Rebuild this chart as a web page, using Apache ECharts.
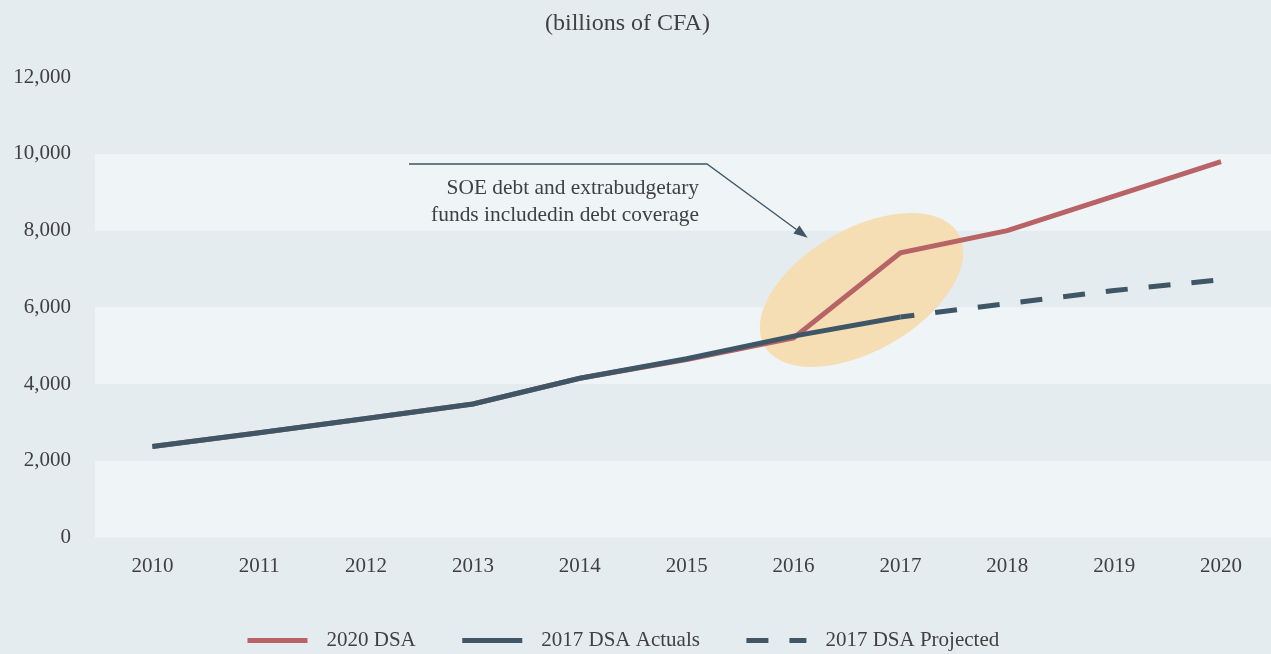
<!DOCTYPE html>
<html>
<head>
<meta charset="utf-8">
<script src="https://cdn.jsdelivr.net/npm/echarts@6/dist/echarts.min.js"></script>
<style>
html,body{margin:0;padding:0;background:#e4ecef;}
#chart{width:1271px;height:654px;}
</style>
</head>
<body>
<div id="chart"></div>
<script>
// ---- data ----
const years = [2010, 2011, 2012, 2013, 2014, 2015, 2016, 2017, 2018, 2019, 2020];
const dsa2020 = [2370, 2730, 3100, 3480, 4150, 4640, 5200, 7420, 8000, 8900, 9800];
const actualYears = [2010, 2011, 2012, 2013, 2014, 2015, 2016, 2017];
const dsa2017Actuals = [2370, 2730, 3100, 3480, 4150, 4660, 5250, 5750];
const projectedYears = [2017, 2018, 2019, 2020];
const dsa2017Projected = [5750, 6100, 6440, 6720];
const seriesNames = ['2020 DSA', '2017 DSA Actuals', '2017 DSA Projected'];
const titleText = '(billions of CFA)';
const noteText = 'SOE debt and extrabudgetary\nfunds includedin debt coverage';

const FONT = '"Liberation Serif", "Times New Roman", serif';
const TXT = '#404040';
const RED = '#b86466';
const DARK = '#3e5666';

const pair = (xs, ys) => xs.map((x, i) => [x, ys[i]]);

const chart = echarts.init(document.getElementById('chart'), null, {renderer: 'canvas'});

chart.setOption({
  backgroundColor: '#e4ecef',
  animation: false,
  title: {
    text: titleText,
    left: 540, top: 7,
    textStyle: {fontFamily: FONT, fontSize: 24, fontWeight: 'normal', color: TXT}
  },
  grid: {left: 95, right: 0, top: 77.3, bottom: 116.6, containLabel: false},
  xAxis: {
    type: 'value',
    min: 2009.463, max: 2020.468,
    axisLine: {show: false},
    axisTick: {show: false},
    splitLine: {show: false},
    axisLabel: {
      customValues: years,
      formatter: v => String(Math.round(v)),
      margin: 19,
      color: TXT, fontFamily: FONT, fontSize: 21
    }
  },
  yAxis: {
    type: 'value',
    min: 0, max: 12000, interval: 2000,
    axisLine: {show: false},
    axisTick: {show: false},
    splitLine: {show: false},
    splitArea: {show: true, areaStyle: {color: ['#eff4f7', 'rgba(0,0,0,0)']}},
    axisLabel: {margin: 24, color: TXT, fontFamily: FONT, fontSize: 21}
  },
  legend: {
    bottom: -2, left: 240,
    itemWidth: 60, itemHeight: 14, itemGap: 44,
    lineStyle: {width: 5},
    itemStyle: {opacity: 0},
    textStyle: {fontFamily: FONT, fontSize: 21, color: TXT, padding: [0, 0, 0, 14]},
    data: [
      {name: seriesNames[0]},
      {name: seriesNames[1]},
      {name: seriesNames[2], lineStyle: {dashOffset: 0}}
    ]
  },
  series: [
    {
      name: seriesNames[0], type: 'line', symbol: 'none', z: 2,
      data: pair(years, dsa2020),
      lineStyle: {color: RED, width: 5, cap: 'butt', join: 'miter'},
      itemStyle: {color: RED}
    },
    {
      name: seriesNames[1], type: 'line', symbol: 'none', z: 3,
      data: pair(actualYears, dsa2017Actuals),
      lineStyle: {color: DARK, width: 5, cap: 'butt', join: 'miter'},
      itemStyle: {color: DARK}
    },
    {
      name: seriesNames[2], type: 'line', symbol: 'none', z: 3,
      data: pair(projectedYears, dsa2017Projected),
      lineStyle: {color: DARK, width: 5, type: [22, 21], dashOffset: 8, cap: 'butt'},
      itemStyle: {color: DARK}
    }
  ],
  graphic: [
    {
      type: 'ellipse', z: 1, silent: true,
      x: 861.5, y: 290, rotation: Math.PI / 6,
      shape: {cx: 0, cy: 0, rx: 112, ry: 61},
      style: {fill: '#f6deb4'}
    },
    {
      type: 'polyline', z: 50, silent: true,
      shape: {points: [[409, 164], [707, 164], [796.4, 229.4]]},
      style: {stroke: DARK, lineWidth: 1.3, fill: null}
    },
    {
      type: 'polygon', z: 50, silent: true,
      shape: {points: [[807.7, 237.7], [793.4, 233.4], [799.4, 225.4]]},
      style: {fill: DARK}
    },
    {
      type: 'text', z: 50, silent: true,
      x: 699, y: 174.5,
      style: {
        text: noteText, fill: TXT, align: 'right', verticalAlign: 'top',
        font: '21.4px ' + FONT, lineHeight: 27.5
      }
    }
  ]
});
</script>
</body>
</html>
